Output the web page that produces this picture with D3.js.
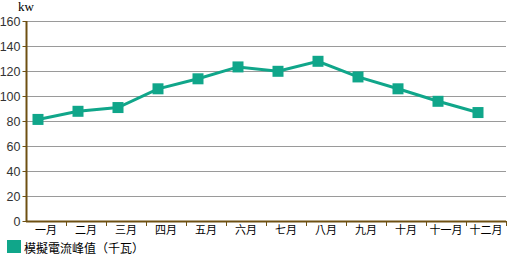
<!DOCTYPE html>
<html><head><meta charset="utf-8">
<script src="https://cdn.jsdelivr.net/npm/d3@7"></script>
<style>
html,body{margin:0;padding:0;background:#fff;}
svg{display:block;}
</style></head>
<body><svg id="c" width="509" height="257"></svg>
<script>
const categories = ["一月","二月","三月","四月","五月","六月","七月","八月","九月","十月","十一月","十二月"];
const values = [81.5, 88, 91, 106, 114, 123.5, 120, 128, 115.5, 106, 96, 87];
const yTicks = [0,20,40,60,80,100,120,140,160];
const seriesName = "模擬電流峰值（千瓦）";
const unitLabel = "kw";

(function(){
const svg = d3.select("#c");
const pl = 26, pr = 506, pt = 21.3, pb = 221.3;
const teal = "#10a68a", axisCol = "#6e5012";

const x = d3.scaleBand().domain(categories).range([pl, pr]).padding(0);
const xp = d3.scalePoint().domain(categories).range([pl + 12, pr - 28]);
const y = d3.scaleLinear().domain([0,160]).range([pb, pt]);

// grid
svg.append("g").selectAll("line").data(yTicks.filter(d=>d>0)).join("line")
  .attr("x1", pl).attr("x2", pr)
  .attr("y1", d=>Math.round(y(d))+0.5).attr("y2", d=>Math.round(y(d))+0.5)
  .attr("stroke", "#9a9a9a").attr("stroke-width", 1);

// y axis
const ya = svg.append("g").attr("transform", `translate(${pl+0.5},0.5)`)
  .call(d3.axisLeft(y).tickValues(yTicks).tickSize(4).tickPadding(2).tickFormat(d3.format("d")));
ya.selectAll("path.domain").remove();
ya.selectAll("text").attr("font-family","Liberation Sans, Arial, sans-serif").attr("font-size","12.5px").attr("fill","#333");
ya.selectAll("line").attr("stroke", axisCol);
ya.selectAll(".tick").attr("transform", d=>`translate(0,${Math.round(y(d))})`);
svg.append("line").attr("x1", pl+0.5).attr("x2", pl+0.5).attr("y1", Math.round(pt)).attr("y2", Math.round(pb)+1)
  .attr("stroke", axisCol).attr("stroke-width", 2);

// x axis
const xa = svg.append("g").attr("transform", `translate(0,${Math.round(pb)+0.5})`)
  .call(d3.axisBottom(x).tickSize(0).tickPadding(5));
xa.selectAll("path.domain").remove();
xa.selectAll("text").attr("font-family","Noto Sans CJK TC, sans-serif").attr("font-size","11px").attr("fill","#000");
svg.append("g").selectAll("line").data(categories).join("line")
  .attr("x1", d=> Math.round(x(d) + x.bandwidth())+0.5)
  .attr("x2", d=> Math.round(x(d) + x.bandwidth())+0.5)
  .attr("y1", Math.round(pb)).attr("y2", Math.round(pb)+5)
  .attr("stroke", axisCol).attr("stroke-width", 1);
svg.append("line").attr("x1", pl).attr("x2", pr).attr("y1", Math.round(pb)+0.5).attr("y2", Math.round(pb)+0.5)
  .attr("stroke", axisCol).attr("stroke-width", 2);

// unit label
svg.append("text").attr("x", 26).attr("y", 11).attr("text-anchor","middle")
  .attr("font-family","Liberation Serif, serif").attr("font-size","13px").attr("fill","#000").text(unitLabel);

// line
svg.append("path").datum(values)
  .attr("d", d3.line().x((d,i)=>xp(categories[i])).y(d=>y(d)))
  .attr("fill","none").attr("stroke", teal).attr("stroke-width", 3);
svg.append("g").selectAll("rect").data(values).join("rect")
  .attr("x", (d,i)=>xp(categories[i]) - 5.5).attr("y", d=>y(d)-5.5)
  .attr("width", 11).attr("height", 11).attr("fill", teal);

// legend
svg.append("rect").attr("x", 7).attr("y", 240).attr("width", 14).attr("height", 13).attr("fill", teal);
svg.append("text").attr("x", 24).attr("y", 253)
  .attr("font-family","Noto Sans CJK TC, sans-serif").attr("font-size","12px").attr("fill","#000").text(seriesName);
})();
</script></body></html>
